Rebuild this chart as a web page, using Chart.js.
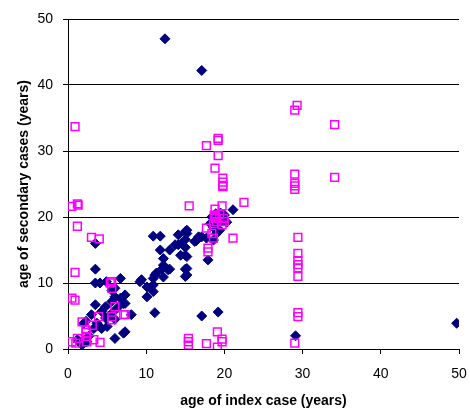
<!DOCTYPE html>
<html>
<head>
<meta charset="utf-8">
<script src="https://cdn.jsdelivr.net/npm/chart.js@4"></script>
<style>
  html, body { margin: 0; padding: 0; background: #fff; }
  #wrap { width: 470px; height: 412px; }
</style>
</head>
<body>
<div id="wrap"><canvas id="myChart" width="470" height="412"></canvas></div>
<script>
'use strict'

// axis ticks
let xTicks = [0, 10, 20, 30, 40, 50];
let yTicks = [0, 10, 20, 30, 40, 50];

// dark blue diamonds: age of index case / age of secondary case
let blueIndexAge = [12.4, 17.1, 29.1, 49.7, 17.1, 19.2, 11.1, 17.9,
  1.2, 1.8, 2.4, 1.5, 2.0, 2.3, 3.3, 4.3, 5.0, 3.7, 4.8, 3.0, 4.3, 4.8, 5.6, 6.3, 5.6, 6.0, 6.7, 7.1, 3.5,
  5.6, 6.0, 3.5, 4.1, 4.9, 6.7, 3.5, 3.5, 6.0, 7.1, 7.3, 7.3, 7.3, 8.1, 5.2, 6.0, 2.7, 3.9,
  9.2, 10.1, 10.9, 10.1, 10.9, 9.4, 10.9, 11.3, 12.0, 12.8, 12.2, 12.2, 11.8, 10.9, 11.8, 13.0, 13.7, 14.5,
  14.1, 15.0, 15.0, 15.0, 15.0, 14.4, 15.0, 15.0, 15.2, 15.2, 15.2, 13.0, 12.2, 11.1, 15.2, 15.2, 16.2, 16.7,
  16.4, 17.1, 17.7, 18.6, 18.4, 18.2, 18.6, 19.0, 19.4, 19.7, 20.0, 19.0, 19.5, 20.3, 18.9, 21.1, 14.1];
let blueSecondaryAge = [47.0, 42.2, 2.0, 3.9, 5.0, 5.6, 5.5, 13.5,
  1.4, 0.6, 1.1, 1.0, 3.9, 4.2, 3.1, 3.1, 3.4, 3.9, 4.7, 5.2, 5.7, 6.4, 5.4, 6.2, 7.2, 7.9, 7.7, 6.9, 6.7,
  8.9, 9.2, 10.0, 10.0, 10.2, 10.7, 12.1, 16.0, 1.6, 2.4, 2.6, 8.2, 6.9, 5.2, 5.0, 4.5, 2.0, 3.5,
  10.2, 9.4, 9.7, 7.9, 8.7, 10.5, 10.7, 11.5, 12.1, 12.0, 12.7, 13.7, 15.0, 17.1, 17.1, 15.0, 15.8, 16.0,
  17.3, 17.8, 16.6, 15.4, 14.2, 14.2, 12.1, 11.0, 11.2, 12.2, 14.0, 12.1, 10.9, 11.2, 18.0, 17.5, 16.3, 17.0,
  16.4, 17.0, 16.8, 16.5, 20.0, 19.0, 18.4, 18.9, 18.0, 19.5, 20.3, 17.5, 20.6, 19.2, 20.5, 21.1, 15.8];

// magenta open squares
let pinkIndexAge = [0.9, 17.7, 19.2, 19.2, 19.2, 18.8, 19.8, 19.8, 19.8, 19.8, 29.3, 29.0, 34.1, 29.0, 29.0,
  29.0, 29.0, 34.1, 29.4, 29.4, 29.4, 29.4, 29.4, 29.4, 29.4, 29.4, 29.0,
  0.5, 1.2, 1.3, 1.2, 3.0, 4.0, 0.9, 5.6, 5.4, 5.6, 0.5, 0.9, 1.8, 3.1, 2.3, 3.9, 5.6, 5.6, 6.0, 7.1, 7.3,
  0.5, 1.2, 2.4, 2.4, 3.3, 4.1, 2.3, 1.0,
  15.5, 19.7, 22.5, 18.8, 18.7, 18.8, 19.0, 18.6, 19.9, 20.0, 19.7, 17.7, 18.4, 18.6, 21.1, 17.9, 17.9,
  15.4, 15.4, 15.4, 17.7, 19.1, 19.7, 19.7, 19.1, 18.9, 19.4];
let pinkSecondaryAge = [33.7, 30.8, 31.9, 31.6, 29.3, 27.4, 25.9, 25.3, 24.8, 24.6, 36.9, 36.2, 34.0, 26.5, 25.1,
  24.7, 24.2, 26.0, 16.9, 14.5, 13.4, 12.8, 12.3, 11.0, 5.5, 4.9, 0.9,
  21.6, 22.0, 21.8, 18.6, 16.9, 16.7, 11.6, 10.2, 10.0, 9.2, 7.7, 7.4, 4.1, 3.6, 2.9, 4.9, 4.9, 4.4, 6.4, 5.2, 5.2,
  1.1, 1.6, 1.9, 1.1, 1.4, 1.0, 2.5, 0.9,
  21.7, 21.7, 22.2, 21.2, 20.3, 19.8, 19.3, 19.0, 19.8, 19.3, 18.8, 18.3, 17.5, 16.8, 16.8, 15.3, 14.7,
  1.6, 1.1, 0.6, 0.8, 2.6, 1.5, 1.1, 0.3, 20.0, 20.4];

function toPoints(xs, ys) {
  let pts = [];
  for (let i = 0; i < xs.length; i++) {
    pts.push({ x: xs[i], y: ys[i] });
  }
  return pts;
}

let fontName = "'Liberation Sans', Arial, sans-serif";

function fixedTicks(values) {
  return function (scale) {
    scale.ticks = values.map(function (v) { return { value: v }; });
  };
}

let ctx = document.getElementById('myChart').getContext('2d');

let chart = new Chart(ctx, {
  type: 'scatter',
  data: {
    datasets: [
      {
        label: 'blue',
        data: toPoints(blueIndexAge, blueSecondaryAge),
        pointStyle: 'rectRot',
        pointRadius: 5,
        backgroundColor: '#000080',
        borderColor: '#000080',
        borderWidth: 1,
        order: 2
      },
      {
        label: 'pink',
        data: toPoints(pinkIndexAge, pinkSecondaryAge),
        pointStyle: 'rect',
        pointRadius: 5.5,
        backgroundColor: 'rgba(0,0,0,0)',
        borderColor: '#ff00ff',
        borderWidth: 1.5,
        order: 1
      }
    ]
  },
  options: {
    responsive: false,
    animation: false,
    events: [],
    layout: { padding: { top: 19, right: 11, left: 0, bottom: 0 } },
    plugins: {
      legend: { display: false },
      tooltip: { enabled: false }
    },
    scales: {
      x: {
        type: 'linear',
        min: 0,
        max: 50,
        afterBuildTicks: fixedTicks(xTicks),
        afterFit: function (scale) {
          scale.height = 63;
          scale.paddingLeft = 0;
          scale.paddingRight = 0;
        },
        border: { display: true, color: '#000', width: 1 },
        grid: { drawOnChartArea: false, drawTicks: true, tickLength: 5, tickColor: '#000' },
        ticks: { color: '#000', padding: 12, font: { family: fontName, size: 14 } },
        title: {
          display: true,
          text: 'age of index case (years)',
          color: '#000',
          font: { family: fontName, size: 14, weight: 'bold' },
          padding: { top: 2, bottom: 2 }
        }
      },
      y: {
        type: 'linear',
        min: 0,
        max: 50,
        afterBuildTicks: fixedTicks(yTicks),
        afterFit: function (scale) {
          scale.width = 68;
          scale.paddingTop = 0;
          scale.paddingBottom = 0;
        },
        border: { display: true, color: '#000', width: 1 },
        grid: {
          drawOnChartArea: true,
          color: '#000',
          lineWidth: 1,
          borderDash: [3, 2],
          drawTicks: true,
          tickLength: 5,
          tickColor: '#000',
          tickBorderDash: []
        },
        ticks: { color: '#000', padding: 10, font: { family: fontName, size: 14 } },
        title: {
          display: true,
          text: 'age of secondary cases (years)',
          color: '#000',
          font: { family: fontName, size: 14, weight: 'bold' },
          padding: { top: 16, bottom: 0 }
        }
      }
    }
  }
});
</script>
</body>
</html>
